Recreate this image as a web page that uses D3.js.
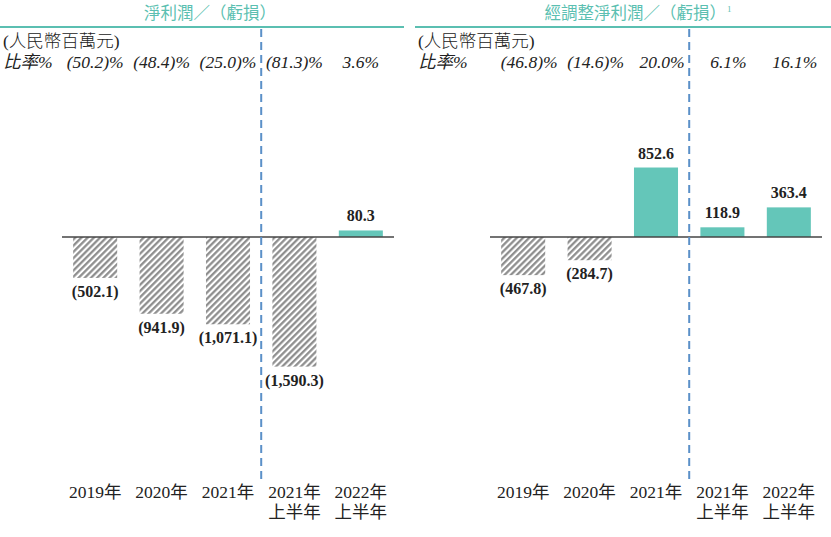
<!DOCTYPE html>
<html>
<head>
<meta charset="utf-8">
<script src="https://cdn.jsdelivr.net/npm/d3@7"></script>
<style>
body { margin: 0; background: #fff; }
text { font-family: "Liberation Serif", "Noto Sans CJK TC", serif; }
</style>
</head>
<body>
<div id="chart"></div>
<script>
var width = 831;
var height = 537;

// data
var categories = ['2019年', '2020年', '2021年', '2021年\n上半年', '2022年\n上半年'];
var netProfit = [-502.1, -941.9, -1071.1, -1590.3, 80.3];
var netRatio = ['(50.2)%', '(48.4)%', '(25.0)%', '(81.3)%', '3.6%'];
var adjProfit = [-467.8, -284.7, 852.6, 118.9, 363.4];
var adjRatio = ['(46.8)%', '(14.6)%', '20.0%', '6.1%', '16.1%'];

var teal = '#64c6b9';
var titleTeal = '#5bbfb1';
var baseY = 237;

var svg = d3.select('#chart').append('svg')
    .attr('width', width)
    .attr('height', height);

// hatch pattern for losses
var pat = svg.append('defs').append('pattern')
    .attr('id', 'hatch')
    .attr('patternUnits', 'userSpaceOnUse')
    .attr('width', 4.4)
    .attr('height', 4.4)
    .attr('patternTransform', 'rotate(45)');
pat.append('rect').attr('width', 4.4).attr('height', 4.4).attr('fill', '#fff');
pat.append('line')
    .attr('x1', 1.2).attr('y1', 0).attr('x2', 1.2).attr('y2', 4.4)
    .attr('stroke', '#8a8a8a')
    .attr('stroke-width', 2.2);

// same vertical scale for both panels
var yScale = d3.scaleLinear()
    .domain([0, 1000])
    .range([baseY, baseY - 81.5]);

function fmt(v) {
    var s = d3.format(',.1f')(Math.abs(v));
    return v < 0 ? '(' + s + ')' : s;
}

function drawPanel(opt) {
    var g = svg.append('g');

    var xScale = d3.scaleBand()
        .domain(categories)
        .range([opt.x0, opt.x1])
        .paddingInner(0.337)
        .paddingOuter(0.168);

    // header
    g.append('line')
        .attr('x1', opt.ruleX0).attr('x2', opt.ruleX1)
        .attr('y1', 27).attr('y2', 27)
        .attr('stroke', titleTeal)
        .attr('stroke-width', 2);

    var title = g.append('text')
        .attr('x', opt.titleX)
        .attr('y', 19)
        .attr('text-anchor', 'middle')
        .attr('fill', titleTeal)
        .style('font-size', '16.5px')
        .text(opt.title);
    if (opt.sup) {
        title.append('tspan')
            .attr('dx', 1)
            .attr('dy', -7)
            .style('font-size', '9px')
            .text(opt.sup);
    }

    g.append('text')
        .attr('x', opt.ruleX0 + 3)
        .attr('y', 47)
        .attr('fill', '#222')
        .style('font-size', '17.5px')
        .style('font-weight', 300)
        .text('(人民幣百萬元)');

    g.append('text')
        .attr('x', opt.ruleX0 + 3)
        .attr('y', 68)
        .attr('fill', '#222')
        .style('font-size', '17.5px')
        .style('font-style', 'italic')
        .text('比率%');

    g.selectAll('.ratio')
        .data(opt.ratio)
        .enter()
        .append('text')
        .attr('x', (d, i) => xScale(categories[i]) + xScale.bandwidth() / 2 + opt.ratioShift)
        .attr('y', 68)
        .attr('text-anchor', 'middle')
        .attr('fill', '#222')
        .style('font-size', '17.5px')
        .style('font-style', 'italic')
        .text(d => d);

    // bars
    g.selectAll('.bar')
        .data(opt.values)
        .enter()
        .append('rect')
        .attr('x', (d, i) => xScale(categories[i]))
        .attr('y', d => d >= 0 ? yScale(d) : yScale(0))
        .attr('width', xScale.bandwidth())
        .attr('height', d => Math.abs(yScale(d) - yScale(0)))
        .attr('fill', d => d >= 0 ? teal : 'url(#hatch)');

    // baseline
    g.append('line')
        .attr('x1', opt.x0).attr('x2', opt.x1)
        .attr('y1', yScale(0)).attr('y2', yScale(0))
        .attr('stroke', '#444')
        .attr('stroke-width', 1.6);

    // value labels
    g.selectAll('.val')
        .data(opt.values)
        .enter()
        .append('text')
        .attr('x', (d, i) => xScale(categories[i]) + xScale.bandwidth() / 2)
        .attr('y', d => d >= 0 ? yScale(d) - 9 : yScale(d) + 19)
        .attr('text-anchor', 'middle')
        .attr('fill', '#222')
        .style('font-size', '16px')
        .style('font-weight', 'bold')
        .text(d => fmt(d));

    // category labels
    var cat = g.selectAll('.cat')
        .data(categories)
        .enter()
        .append('text')
        .attr('text-anchor', 'middle')
        .attr('fill', '#222')
        .style('font-size', '17.5px');
    cat.each(function (d) {
        var lines = d.split('\n');
        var t = d3.select(this);
        lines.forEach(function (l, k) {
            t.append('tspan')
                .attr('x', xScale(d) + xScale.bandwidth() / 2)
                .attr('y', 498 + k * 20)
                .text(l);
        });
    });

    // dashed divider between full years and half years
    var divX = (xScale(categories[2]) + xScale.bandwidth() + xScale(categories[3])) / 2;
    g.append('line')
        .attr('x1', divX).attr('x2', divX)
        .attr('y1', 29).attr('y2', 479)
        .attr('stroke', '#5b90c8')
        .attr('stroke-width', 2)
        .attr('stroke-dasharray', '8,5');
}

drawPanel({
    x0: 62, x1: 394, ruleX0: 0, ruleX1: 404, titleX: 210,
    title: '淨利潤／（虧損）', values: netProfit, ratio: netRatio, ratioShift: 0
});

drawPanel({
    x0: 490, x1: 822, ruleX0: 415, ruleX1: 831, titleX: 638,
    title: '經調整淨利潤／（虧損）', sup: '1', values: adjProfit, ratio: adjRatio, ratioShift: 6
});
</script>
</body>
</html>
